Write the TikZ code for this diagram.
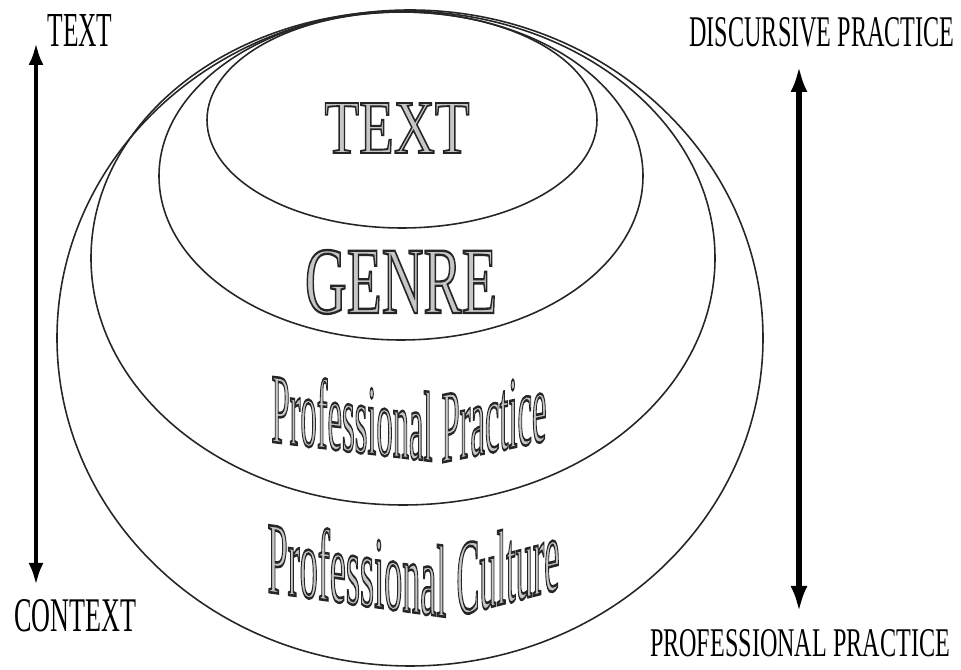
\documentclass[tikz,border=0pt]{standalone}
\usepackage{fontspec}
\setmainfont{Liberation Serif}
\usepackage{graphicx}
\usetikzlibrary{arrows.meta}
\definecolor{artfill}{gray}{0.78}
\newcommand{\squeeze}[3]{\resizebox{#1}{#2}{#3}}
\newcommand{\outlined}[1]{{\color{artfill}\special{pdf:literal direct 0.15 G 2 Tr 0.7 w}#1\special{pdf:literal direct 0 Tr}}}
\newcommand{\wordart}[3]{\resizebox{#1}{#2}{\fontsize{28}{30}\selectfont\outlined{#3}}}
\begin{document}
\begin{tikzpicture}[every node/.style={inner sep=0pt},
    ring/.style={draw,line width=0.45pt,black!85},
    axis/.style={line width=1.2pt,{Latex[length=0.22cm,width=0.15cm]}-{Latex[length=0.22cm,width=0.15cm]}}]
    \useasboundingbox (0,0) rectangle (9.61,6.70);
    % nested rings, inner to outer
    \draw[ring] (4.02,5.50) ellipse (1.95 and 1.08);
    \draw[ring] (4.01,4.94) ellipse (2.42 and 1.64);
    \draw[ring] (4.03,4.12) ellipse (3.12 and 2.47);
    \draw[ring] (4.10,3.32) ellipse (3.53 and 3.28);
    % ring labels
    \node (text) at (3.97,5.42) {\wordart{1.45cm}{0.50cm}{TEXT}};
    \node (genre) at (4.01,3.88) {\wordart{1.92cm}{0.63cm}{GENRE}};
    \node[yslant=-0.12,transform shape] (pp1) at (3.52,2.53) {\wordart{1.61cm}{0.70cm}{Professional}};
    \node[yslant=0.21,transform shape] (pp2) at (4.94,2.52) {\wordart{1.05cm}{0.68cm}{Practice}};
    \node[yslant=-0.14,transform shape] (pc1) at (3.57,1.01) {\wordart{1.79cm}{0.72cm}{Professional}};
    \node[yslant=0.26,transform shape] (pc2) at (5.08,1.04) {\wordart{1.03cm}{0.74cm}{Culture}};
    % side labels
    \node (ttop) at (0.80,6.39) {\squeeze{0.65cm}{0.32cm}{TEXT}};
    \node (cbot) at (0.75,0.54) {\squeeze{1.22cm}{0.32cm}{CONTEXT}};
    \node (dtop) at (8.22,6.38) {\squeeze{2.65cm}{0.29cm}{DISCURSIVE PRACTICE}};
    \node (pbot) at (8.00,0.27) {\squeeze{3.00cm}{0.27cm}{PROFESSIONAL PRACTICE}};
    % arrows
    \coordinate (lup) at (0.36,6.27);
    \coordinate (ldown) at (0.36,0.85);
    \coordinate (rup) at (7.99,6.04);
    \coordinate (rdown) at (7.99,0.58);
    \draw[axis] (ldown) -- (lup);
    \draw[axis,line width=1.5pt,{Latex[length=0.26cm,width=0.17cm]}-{Latex[length=0.26cm,width=0.17cm]}] (rdown) -- (rup);
\end{tikzpicture}
\end{document}
